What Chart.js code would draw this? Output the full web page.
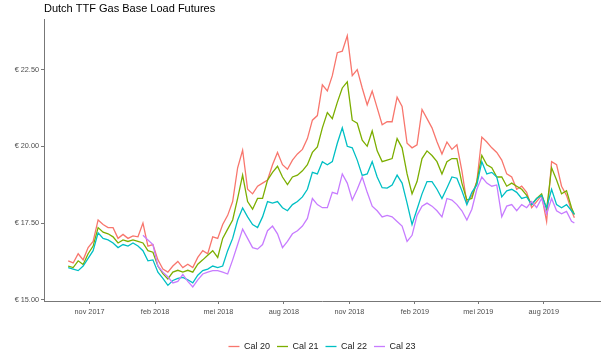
<!DOCTYPE html>
<html><head><meta charset="utf-8">
<script src="https://cdn.jsdelivr.net/npm/chart.js@4.4.1/dist/chart.umd.min.js"></script>
<style>html,body{margin:0;padding:0;background:#fff;overflow:hidden}#wrap{width:602px;height:359px}</style>
</head><body><div id="wrap"><canvas id="c" width="602" height="359"></canvas></div>
<script>
const dates = [
'2017-10-02','2017-10-09','2017-10-16','2017-10-23','2017-10-30','2017-11-06','2017-11-13','2017-11-20','2017-11-27','2017-12-04','2017-12-11','2017-12-18','2017-12-25',
'2018-01-01','2018-01-08','2018-01-15','2018-01-22','2018-01-29','2018-02-05','2018-02-12','2018-02-19','2018-02-26','2018-03-05','2018-03-12','2018-03-19','2018-03-26',
'2018-04-02','2018-04-09','2018-04-16','2018-04-23','2018-04-30','2018-05-07','2018-05-14','2018-05-21','2018-05-28','2018-06-04','2018-06-11','2018-06-18','2018-06-25',
'2018-07-02','2018-07-09','2018-07-16','2018-07-23','2018-07-30','2018-08-06','2018-08-13','2018-08-20','2018-08-27','2018-09-03','2018-09-10','2018-09-17','2018-09-24',
'2018-10-01','2018-10-08','2018-10-15','2018-10-22','2018-10-29','2018-11-05','2018-11-12','2018-11-19','2018-11-26','2018-12-03','2018-12-10','2018-12-17','2018-12-24','2018-12-31',
'2019-01-07','2019-01-14','2019-01-21','2019-01-28','2019-02-04','2019-02-11','2019-02-18','2019-02-25','2019-03-04','2019-03-11','2019-03-18','2019-03-25',
'2019-04-01','2019-04-08','2019-04-15','2019-04-22','2019-04-29','2019-05-06','2019-05-13','2019-05-20','2019-05-27','2019-06-03','2019-06-10','2019-06-17','2019-06-24',
'2019-07-01','2019-07-08','2019-07-15','2019-07-22','2019-07-29','2019-08-05','2019-08-12','2019-08-19','2019-08-26','2019-09-02','2019-09-09','2019-09-13'
];
const cal20 = [
16.27,16.2,16.5,16.3,16.7,16.9,17.6,17.45,17.35,17.35,17.0,17.13,17.0,
17.08,17.05,17.5,16.75,16.8,16.3,16.0,15.9,16.1,16.25,16.05,16.16,16.05,
16.38,16.6,16.5,17.05,17.0,17.45,17.75,18.2,19.3,19.87,18.6,18.45,18.7,
18.8,18.9,19.4,19.8,19.4,19.25,19.55,19.75,19.9,20.25,20.85,21.0,22.0,
21.8,22.3,23.05,23.1,23.6,22.3,22.5,21.9,21.35,21.8,21.25,20.7,20.8,20.8,
21.6,21.3,20.1,19.95,20.05,21.2,20.9,20.6,20.15,19.75,20.14,19.9,
20.05,19.2,18.15,18.4,18.85,20.3,20.14,19.95,19.8,19.55,19.1,19.0,18.6,
18.7,18.5,18.0,18.2,18.4,17.55,19.5,19.4,18.7,18.4,17.9,17.67
];
const cal21 = [
16.1,16.05,16.27,16.15,16.5,16.75,17.35,17.2,17.15,17.05,16.85,16.95,16.9,
16.95,16.9,16.85,16.6,16.55,16.1,15.85,15.68,15.9,15.96,15.9,15.96,15.9,
16.16,16.3,16.45,16.6,16.38,17.0,17.3,17.6,18.3,19.06,18.2,17.95,18.3,
18.3,18.9,19.15,19.35,19.0,18.75,19.0,19.06,19.2,19.4,19.8,19.98,20.6,
21.1,20.9,21.43,21.9,22.1,20.85,20.75,20.2,20.0,20.5,19.85,19.5,19.55,19.6,
20.25,19.95,19.1,18.45,18.85,19.6,19.85,19.7,19.5,19.1,19.5,19.6,
19.6,18.8,18.25,18.3,18.85,19.7,19.4,19.3,19.0,19.0,18.7,18.8,18.7,
18.6,18.4,18.1,18.3,18.45,17.95,19.3,18.9,18.45,18.55,18.0,17.78
];
const cal22 = [
16.05,16.0,15.95,16.1,16.35,16.6,17.18,17.0,16.95,16.85,16.7,16.8,16.75,
16.85,16.75,16.6,16.27,16.3,15.9,15.7,15.47,15.63,15.7,15.73,15.65,15.55,
15.8,15.95,16.0,16.1,16.05,16.1,16.6,17.0,17.6,17.99,17.7,17.45,17.35,
17.7,18.2,18.15,18.2,18.0,17.9,18.1,18.2,18.35,18.6,19.15,19.1,19.5,
19.4,19.5,20.1,20.6,20.0,19.95,19.55,19.05,19.1,19.5,19.0,18.65,18.64,18.74,
19.06,18.8,18.15,17.45,17.95,18.45,18.85,18.85,18.6,18.3,18.64,19.0,
18.96,18.55,18.1,18.5,18.74,19.5,19.1,19.15,19.0,18.35,18.55,18.6,18.5,
18.3,18.35,18.1,18.3,18.4,17.99,18.6,18.1,18.0,18.1,17.9,17.78
];
const cal23 = [
null,null,null,null,null,null,null,null,null,null,null,null,null,
null,null,17.1,16.95,16.8,16.1,15.9,15.75,15.55,15.6,15.83,15.6,15.42,
15.65,15.84,15.9,15.95,15.95,15.9,15.84,16.3,16.8,17.3,17.0,16.7,16.65,
16.8,17.25,17.4,17.15,16.7,16.9,17.15,17.25,17.4,17.65,18.3,18.1,18.0,
18.0,18.5,18.45,19.1,18.8,18.25,18.6,19.0,18.5,18.05,17.9,17.7,17.75,17.7,
17.55,17.4,16.9,17.1,17.75,18.05,18.15,18.05,17.9,17.7,18.3,18.25,
18.1,17.9,17.6,17.95,18.6,19.0,18.8,18.7,18.74,17.7,18.05,18.1,17.9,
18.1,18.0,18.2,18.0,18.3,17.8,18.3,17.9,17.8,17.88,17.56,17.5
];
const seriesNames = ['Cal 20','Cal 21','Cal 22','Cal 23'];
const seriesColors = ['#F8766D','#7CAE00','#00BFC4','#C77CFF'];
const yTicks = [15, 17.5, 20, 22.5];
const xTickDates = ['2017-11-01','2018-02-01','2018-05-01','2018-08-01','2018-11-01','2019-02-01','2019-05-01','2019-08-01'];
const xTickLabels = ['nov 2017','feb 2018','mei 2018','aug 2018','nov 2018','feb 2019','mei 2019','aug 2019'];
const xRange = ['2017-08-29','2019-10-19'];
const yRange = [14.96, 24.14];

const FONT = '"Liberation Sans", Arial, sans-serif';
const allSeries = [cal20, cal21, cal22, cal23];
const datasets = allSeries.map((arr, k) => ({
  label: seriesNames[k],
  data: dates.map((d, i) => ({x: Date.parse(d), y: arr[i]})),
  borderColor: seriesColors[k],
  backgroundColor: seriesColors[k],
  borderWidth: 1.3,
  pointRadius: 0,
  tension: 0,
  order: 4 - k
}));

new Chart(document.getElementById('c'), {
  type: 'line',
  data: {datasets},
  options: {
    responsive: false, animation: false, devicePixelRatio: 1,
    layout: {padding: {left: 0, right: 2, top: 0, bottom: -2}},
    plugins: {
      tooltip: {enabled: false},
      title: {display: true, text: 'Dutch TTF Gas Base Load Futures', align: 'start', fullSize: false,
        color: '#000', font: {family: FONT, size: 11, weight: 'normal'}, padding: {top: 2.5, bottom: 3.5}},
      legend: {position: 'bottom', fullSize: false,
        labels: {usePointStyle: true, pointStyle: 'line', pointStyleWidth: 11, padding: 7,
          color: '#222', font: {family: FONT, size: 9},
          sort: (a, b) => a.datasetIndex - b.datasetIndex}}
    },
    scales: {
      x: {type: 'linear', min: Date.parse(xRange[0]), max: Date.parse(xRange[1]),
        afterBuildTicks: s => { s.ticks = xTickDates.map(d => ({value: Date.parse(d)})); },
        afterFit: s => { s.height = 34; },
        ticks: {autoSkip: false, maxRotation: 0, padding: 4, color: '#4d4d4d', font: {family: FONT, size: 7.3},
          callback: (v) => { const i = xTickDates.findIndex(d => Date.parse(d) === v); return i >= 0 ? xTickLabels[i] : ''; }},
        grid: {drawOnChartArea: false, drawTicks: true, tickLength: 3, color: '#777', lineWidth: 1},
        border: {display: true, color: '#777', width: 1}
      },
      y: {type: 'linear', min: yRange[0], max: yRange[1],
        afterBuildTicks: s => { s.ticks = yTicks.map(v => ({value: v})); },
        afterFit: s => { s.width = 44; },
        ticks: {padding: 2, color: '#4d4d4d', font: {family: FONT, size: 7.3},
          callback: v => '€ ' + Number(v).toFixed(2)},
        grid: {drawOnChartArea: false, drawTicks: true, tickLength: 3, color: '#777', lineWidth: 1},
        border: {display: true, color: '#777', width: 1}
      }
    }
  }
});
</script></body></html>
